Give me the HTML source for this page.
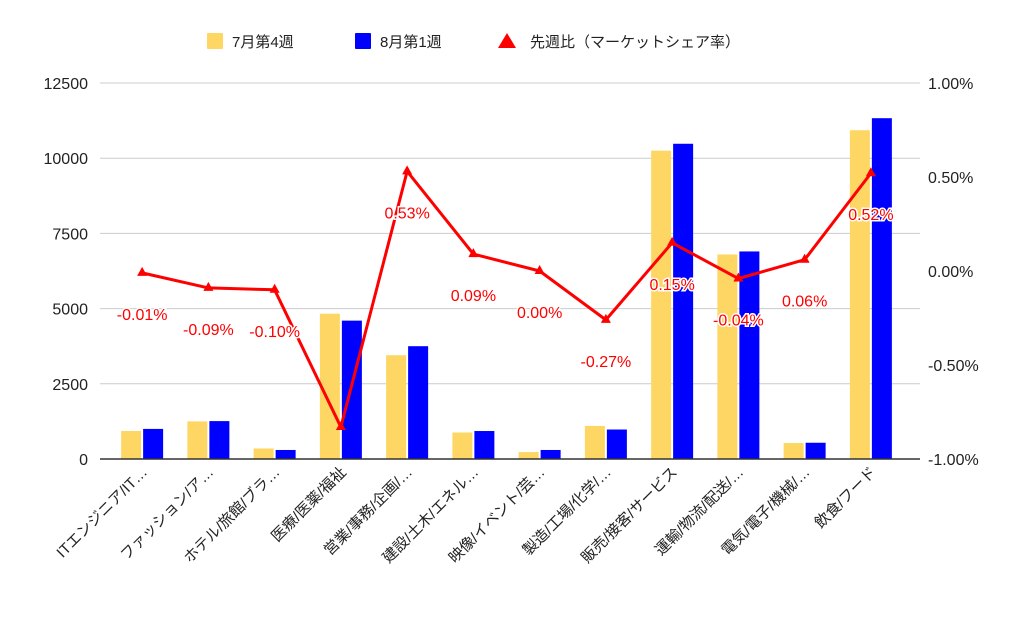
<!DOCTYPE html>
<html><head><meta charset="utf-8">
<style>
body{margin:0;background:#fff;width:1024px;height:633px;overflow:hidden;font-family:"Liberation Sans","Noto Sans CJK JP",sans-serif;}
svg text{font-family:"Liberation Sans","Noto Sans CJK JP",sans-serif;}
</style></head>
<body>
<svg id="chart" width="1024" height="633" xmlns="http://www.w3.org/2000/svg">
<g id="legend">
  <rect x="207" y="33" width="16" height="16" fill="#fdd663" rx="1"/>
  <text x="232" y="47" font-size="15" fill="#222">7月第4週</text>
  <rect x="355" y="33" width="16" height="16" fill="#0000ff" rx="1"/>
  <text x="380" y="47" font-size="15" fill="#222">8月第1週</text>
  <polygon points="507,33 516,48 498,48" fill="#ff0000"/>
  <text x="530" y="47" font-size="15" fill="#222">先週比（マーケットシェア率）</text>
</g>
<g id="grid"></g><g id="bars"></g><g id="line"></g><g id="labels"></g><g id="xaxis"></g>
</svg>
<script>
const categories=["ITエンジニア/IT…","ファッション/ア…","ホテル/旅館/ブラ…","医療/医薬/福祉","営業/事務/企画/…","建設/土木/エネル…","映像/イベント/芸…","製造/工場/化学/…","販売/接客/サービス","運輸/物流/配送/…","電気/電子/機械/…","飲食/フード"];
const julW4=[930,1250,350,4830,3450,880,230,1100,10250,6800,530,10930];
const augW1=[1000,1260,300,4600,3750,930,300,980,10480,6900,540,11330];
const ratio=[-0.01,-0.09,-0.10,-0.83,0.53,0.09,0.00,-0.26,0.15,-0.04,0.06,0.52];
const ratioLabels=["-0.01%","-0.09%","-0.10%",null,"0.53%","0.09%","0.00%","-0.27%","0.15%","-0.04%","0.06%","0.52%"];
const leftTicks=[0,2500,5000,7500,10000,12500];
const rightTicks=[-1,-0.5,0,0.5,1];
const rightTickLabels=["-1.00%","-0.50%","0.00%","0.50%","1.00%"];

const NS="http://www.w3.org/2000/svg";
const top_=83,bot=459,xl=109,xr=904;
const yL=v=>bot-(v/12500)*(bot-top_);
const yR=v=>bot-((v+1)/2)*(bot-top_);
const band=(xr-xl)/categories.length;
const xC=i=>xl+band*(i+0.5);
function mk(tag,attrs,parent){const e=document.createElementNS(NS,tag);for(const k in attrs)e.setAttribute(k,attrs[k]);document.getElementById(parent).appendChild(e);return e;}

leftTicks.forEach((t,i)=>{
  if(t>0){const g=mk('line',{x1:100,x2:920,y1:yL(t),y2:yL(t),stroke:'#ccc','stroke-width':1},'grid');
  
  }
  const l=mk('text',{x:88,y:yL(t)+6,'text-anchor':'end','font-size':16,fill:'#222'},'grid');
  l.textContent=t;
  
  
});
rightTicks.forEach((t,i)=>{
  const l=mk('text',{x:928,y:yR(t)+6,'font-size':16,fill:'#222'},'grid');
  l.textContent=rightTickLabels[i];
  
  
});
const bw=20;
categories.forEach((c,i)=>{
  const a=mk('rect',{x:xC(i)-bw-1,y:yL(julW4[i]),width:bw,height:bot-yL(julW4[i]),fill:'#fdd663'},'bars');
  
  
  const b=mk('rect',{x:xC(i)+1,y:yL(augW1[i]),width:bw,height:bot-yL(augW1[i]),fill:'#0000ff'},'bars');
  
  
  const t=mk('text',{transform:`translate(${xC(i)+6},${bot+14}) rotate(-45)`,'text-anchor':'end','font-size':15,fill:'#222'},'xaxis');
  t.textContent=c;
  
  
});
const ax=mk('line',{x1:100,x2:920,y1:bot,y2:bot,stroke:'#333','stroke-width':1.5},'xaxis');


const pl=mk('polyline',{points:ratio.map((v,i)=>xC(i)+','+yR(v)).join(' '),fill:'none',stroke:'#ff0000','stroke-width':3,'stroke-linejoin':'round'},'line');


ratio.forEach((v,i)=>{
  const x=xC(i),y=yR(v);
  const m=mk('polygon',{points:`${x},${y-6} ${x+5},${y+3} ${x-5},${y+3}`,fill:'#ff0000'},'line');
  
  
  if(ratioLabels[i]){
    const t=mk('text',{x:x,y:y+47,'text-anchor':'middle','font-size':16,fill:'#ff0000',stroke:'#fff','stroke-width':3,'paint-order':'stroke'},'labels');
    t.textContent=ratioLabels[i];
    
    
  }
});
</script>
</body></html>
